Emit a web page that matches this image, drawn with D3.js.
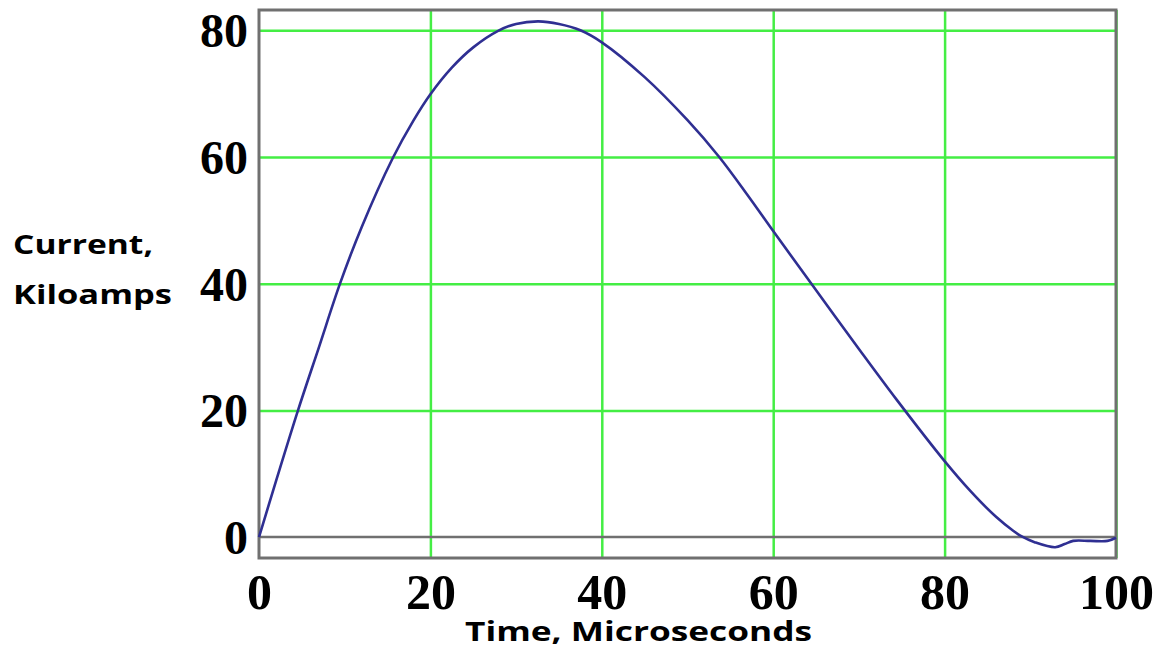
<!DOCTYPE html>
<html>
<head>
<meta charset="utf-8">
<script src="https://cdn.jsdelivr.net/npm/d3@7"></script>
<style>
  html, body { margin: 0; padding: 0; background: #fff; }
  svg { display: block; }
</style>
</head>
<body>
<svg id="chart" width="1157" height="661"></svg>
<script>
// ---- data ----
const timeUs = [0, 2, 4.55, 7, 9.45, 12, 15.6, 18, 20, 22.5, 25, 27.9, 30, 32.6, 35, 37.5, 40, 45, 50, 53.7, 57, 60, 64.5, 70, 74.4, 80, 83, 86, 88, 89, 90.5, 92.9, 94, 95, 97, 99, 100];
const currentKA = [0, 8.9, 20, 30, 40, 49, 59.8, 65.7, 69.9, 74.1, 77.3, 79.9, 81, 81.4, 81, 80, 78.1, 72.6, 65.8, 60, 54, 48.3, 39.9, 29.7, 21.7, 12.0, 7.3, 3.2, 1.0, 0.1, -0.8, -1.6, -1.1, -0.6, -0.6, -0.6, -0.1];
const xTicks = [0, 20, 40, 60, 80, 100];
const yTicks = [0, 20, 40, 60, 80];
const yLabelLines = ["Current,", "Kiloamps"];
const xLabelText = "Time, Microseconds";

// ---- layout ----
const svg = d3.select("#chart");
const pLeft = 259, pRight = 1116, pTop = 10, pBottom = 558;
const x = d3.scaleLinear().domain([0, 100]).range([pLeft, pRight]);
const y = d3.scaleLinear().domain([-3.3, 83.2]).range([pBottom, pTop]);

const gridColor = "#44ee44";
const frameColor = "#707070";

// grid lines
const gx = svg.append("g")
  .attr("transform", `translate(0,${pBottom})`)
  .call(d3.axisBottom(x).tickValues(xTicks.filter(d => d > 0)).tickSize(-(pBottom - pTop)).tickFormat(""));
gx.select(".domain").remove();
gx.selectAll("line").attr("stroke", gridColor).attr("stroke-width", 2.5);

const gy = svg.append("g")
  .attr("transform", `translate(${pLeft},0)`)
  .call(d3.axisLeft(y).tickValues(yTicks.filter(d => d > 0)).tickSize(-(pRight - pLeft)).tickFormat(""));
gy.select(".domain").remove();
gy.selectAll("line").attr("stroke", gridColor).attr("stroke-width", 2.5);

// zero line
svg.append("line")
  .attr("x1", pLeft).attr("x2", pRight)
  .attr("y1", y(0)).attr("y2", y(0))
  .attr("stroke", frameColor).attr("stroke-width", 2.5);

// frame
svg.append("rect")
  .attr("x", pLeft).attr("y", pTop)
  .attr("width", pRight - pLeft).attr("height", pBottom - pTop)
  .attr("fill", "none").attr("stroke", frameColor).attr("stroke-width", 3);

// curve
const pts = timeUs.map((t, i) => [t, currentKA[i]]);
svg.append("path")
  .datum(pts)
  .attr("fill", "none")
  .attr("stroke", "#2f2f92")
  .attr("stroke-width", 2.6)
  .attr("stroke-linejoin", "round")
  .attr("d", d3.line().x(d => x(d[0])).y(d => y(d[1])).curve(d3.curveCatmullRom.alpha(0.5)));

// tick labels
const tickFont = "'Liberation Serif', 'Times New Roman', serif";
const xl = svg.append("g")
  .attr("transform", `translate(0,${pBottom})`)
  .call(d3.axisBottom(x).tickValues(xTicks).tickSize(0).tickPadding(51));
xl.select(".domain").remove();
xl.selectAll("text")
  .attr("font-family", tickFont).attr("font-weight", "bold")
  .attr("font-size", 50).attr("fill", "#000")
  .attr("dy", 0);

const yl = svg.append("g")
  .attr("transform", `translate(${pLeft},0)`)
  .call(d3.axisLeft(y).tickValues(yTicks).tickSize(0).tickPadding(11));
yl.select(".domain").remove();
yl.selectAll("text")
  .attr("font-family", tickFont).attr("font-weight", "bold")
  .attr("font-size", 48).attr("fill", "#000")
  .attr("dy", "0.34em");

// axis titles
const titleFont = "'Open Sans', Lato, sans-serif";
svg.append("text")
  .attr("x", 13).attr("y", 254)
  .attr("font-family", titleFont).attr("font-weight", "bold").attr("font-size", 27.5)
  .attr("textLength", 140).attr("lengthAdjust", "spacingAndGlyphs")
  .text(yLabelLines[0]);
svg.append("text")
  .attr("x", 13).attr("y", 304)
  .attr("font-family", titleFont).attr("font-weight", "bold").attr("font-size", 27.5)
  .attr("textLength", 159).attr("lengthAdjust", "spacingAndGlyphs")
  .text(yLabelLines[1]);
svg.append("text")
  .attr("x", 465).attr("y", 641)
  .attr("font-family", titleFont).attr("font-weight", "bold").attr("font-size", 26)
  .attr("textLength", 347).attr("lengthAdjust", "spacingAndGlyphs")
  .text(xLabelText);
</script>
</body>
</html>
